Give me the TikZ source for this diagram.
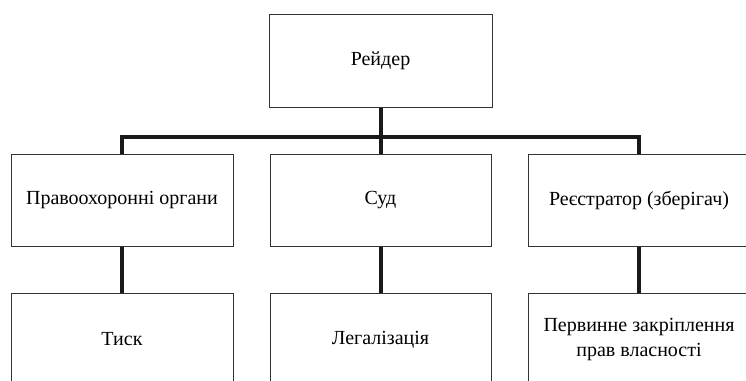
\documentclass[tikz,border=0pt]{standalone}
\usepackage{fontspec}
\setmainfont{Liberation Serif}
\begin{document}
\begin{tikzpicture}[x=1pt,y=-1pt,
  box/.style={draw=black!80,line width=1pt,rectangle,minimum height=92.5pt,
    inner sep=0pt,align=center,font=\fontsize{20}{25}\selectfont},
  bus/.style={line width=4pt,black!90,line join=miter}]
\useasboundingbox (0,0) rectangle (746,380);
\clip (0,0) rectangle (746,380);
\fill[white] (0,0) rectangle (746,380);
\node[box,minimum width=223pt] (top) at (380.5,61) {Рейдер};
\node[box,minimum width=222pt] (l) at (122,200.5) {Правоохоронні органи};
\node[box,minimum width=221pt] (m) at (380.5,200.5) {Суд};
\node[box,minimum width=222pt] (r) at (639,200.5) {Реєстратор (зберігач)};
\node[box,minimum width=222pt] (lb) at (122,339.5) {Тиск};
\node[box,minimum width=221pt] (mb) at (380.5,339.5) {Легалізація};
\node[box,minimum width=222pt] (rb) at (639,339.5) {Первинне закріплення\\прав власності};
\coordinate (busy) at (0,137);
\draw[bus] (l.north) -- (l.north |- busy) -- (r.north |- busy) -- (r.north);
\draw[bus] (top.south) -- (top.south |- busy);
\draw[bus] (m.north) -- (m.north |- busy);
\draw[bus] (l.south) -- (lb.north);
\draw[bus] (m.south) -- (mb.north);
\draw[bus] (r.south) -- (rb.north);
\end{tikzpicture}
\end{document}
